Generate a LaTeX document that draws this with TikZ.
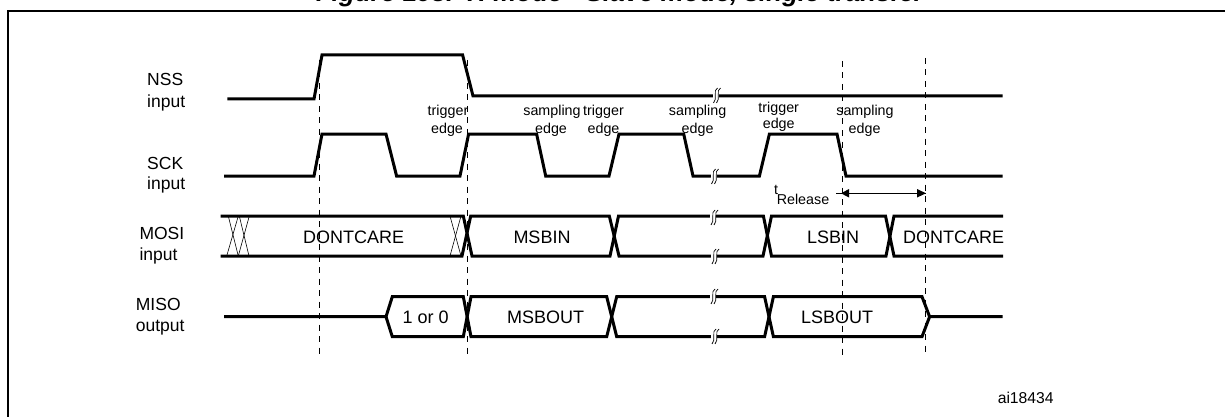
\documentclass[tikz,border=0pt]{standalone}
\usepackage{fontspec}
\setmainfont{Liberation Sans}
\tikzset{
  x=1pt,y=-1pt,
  sig/.style={line width=3pt,line join=miter,miter limit=3},
  thinx/.style={line width=0.6pt},
  guide/.style={line width=1pt,dash pattern=on 6pt off 5.5pt},
  frameline/.style={line width=2.2pt},
  big/.style={inner sep=0pt,anchor=base,font=\fontsize{18}{18}\selectfont},
  lab/.style={inner sep=0pt,anchor=base west,font=\fontsize{17.5}{18}\selectfont},
  small/.style={inner sep=0pt,anchor=base,font=\fontsize{14.3}{15}\selectfont},
  brk/.pic={
    \fill[white] (-2.5,-6) rectangle (3.5,6);
    \draw[line width=0.7pt] (2.5,-8) .. controls (-2.5,-6) and (3,3) .. (-1.5,7);
    \draw[line width=0.7pt] (5.5,-8) .. controls (0.5,-6) and (6,3) .. (1.5,7);
  }
}
\begin{document}
\begin{tikzpicture}
\path[use as bounding box,clip] (0,0) rectangle (1225,417);
\fill[white] (0,0) rectangle (1225,417);
\node[inner sep=0pt,anchor=base,font=\fontsize{26}{28}\selectfont\bfseries\itshape] (title) at (620,1.5) {Figure 198. TI mode - Slave mode, single transfer};
\draw[frameline] (8,417) -- (8,10.7) -- (1225,10.7);
% guides
\coordinate (g1t) at (319,60); \coordinate (g1b) at (319,355);
\coordinate (g2t) at (467,60); \coordinate (g2b) at (467,355);
\coordinate (g3t) at (842,61); \coordinate (g3b) at (842,355);
\coordinate (g4t) at (925.6,58); \coordinate (g4b) at (925.6,353);
\draw[guide] (g1t) -- (g1b);
\draw[guide] (g2t) -- (g2b);
\draw[guide] (g3t) -- (g3b);
\draw[guide] (g4t) -- (g4b);
% NSS
\draw[sig] (227.4,99) -- (314,99) -- (322,55) -- (462.6,55) -- (473,96) -- (1002.5,96);
% SCK
\draw[sig] (224,176) -- (314,176) -- (322,134) -- (386,134) -- (396.6,176) -- (460,176) -- (468.6,134) -- (536.6,134) -- (545.7,176) -- (609,176) -- (619,134) -- (683.7,134) -- (693,176) -- (759.4,176) -- (769.4,134) -- (837,134) -- (846,176) -- (1002.5,176);
% MOSI
\draw[sig] (220.7,216) -- (463.3,216) -- (472,256) -- (610,256) -- (618.5,216) -- (763.4,216) -- (771.5,256) -- (886,256) -- (894,216) -- (1003,216);
\draw[sig] (220.7,256) -- (462,256) -- (470.7,216) -- (609.3,216) -- (619,256) -- (763,256) -- (771.5,216) -- (885.5,216) -- (894,256) -- (1003,256);
\draw[thinx] (228.3,216) -- (238.3,256);
\draw[thinx] (238.3,216) -- (226.7,256);
\draw[thinx] (239.3,216) -- (249,256);
\draw[thinx] (249.3,216) -- (238.3,256);
\draw[thinx] (450,216) -- (461,256);
\draw[thinx] (461,216) -- (450,256);
% MISO
\draw[sig] (224,316.7) -- (386,316.7) -- (392.3,296.7) -- (463.3,296.7) -- (471,336.7) -- (606.7,336.7) -- (616.7,296.7) -- (764.6,296.7) -- (773.4,336.7) -- (922,336.7) -- (929.6,316.7) -- (1002.5,316.7);
\draw[sig] (386,316.7) -- (392.3,336.7) -- (463.3,336.7) -- (471,296.7) -- (606.7,296.7) -- (616.7,336.7) -- (764.6,336.7) -- (773.4,296.7) -- (922,296.7) -- (929.6,316.7);
% breaks
\pic at (715,96) {brk};
\pic at (713,177) {brk};
\pic at (712.5,218) {brk};
\pic at (713.5,257) {brk};
\pic at (712.5,297) {brk};
\pic at (713.5,337) {brk};
% row labels
\node[lab] (nssa) at (147,86) {NSS};
\node[lab] (nssb) at (147,107) {input};
\node[lab] (scka) at (147,169) {SCK};
\node[lab] (sckb) at (147,189) {input};
\node[lab] (mosia) at (139.3,239.5) {MOSI};
\node[lab] (mosib) at (139.3,260) {input};
\node[lab] (misoa) at (135.7,310.5) {MISO};
\node[lab] (misob) at (135.7,331) {output};
% edge labels
\node[small] (t1a) at (448,116) {trigger};
\node[small] (t1b) at (447,133) {edge};
\node[small] (s1a) at (552,116) {sampling};
\node[small] (s1b) at (551,133) {edge};
\node[small] (t2a) at (603.5,116) {trigger};
\node[small] (t2b) at (603.5,133) {edge};
\node[small] (s2a) at (697.6,116) {sampling};
\node[small] (s2b) at (697.6,133) {edge};
\node[small] (t3a) at (778.7,112.5) {trigger};
\node[small] (t3b) at (778.7,128.5) {edge};
\node[small] (s3a) at (865,116) {sampling};
\node[small] (s3b) at (864.6,133) {edge};
% tRelease
\node[small] (tt) at (776,194) {t};
\node[small] (trel) at (803,204) {Release};
\coordinate (al) at (836.3,193.3);
\coordinate (ar) at (926,193.3);
\draw[line width=1.2pt] (al) -- (ar);
\fill (841,193.3) -- (849,189) -- (849,197.5) -- cycle;
\fill (926,193.3) -- (917,189) -- (917,197.5) -- cycle;
% bus text
\node[big] (d1) at (353.7,243) {DONTCARE};
\node[big] (m1) at (542,243) {MSBIN};
\node[big] (l1) at (833,243) {LSBIN};
\node[big] (d2) at (953.5,243) {DONTCARE};
\node[big] (o0) at (425.7,323.5) {1 or 0};
\node[big] (m2) at (545.7,323.5) {MSBOUT};
\node[big] (l2) at (837,323.5) {LSBOUT};
\node[inner sep=0pt,anchor=base,font=\fontsize{15.7}{16}\selectfont] (ai) at (1025.7,403) {ai18434};
\end{tikzpicture}
\end{document}
